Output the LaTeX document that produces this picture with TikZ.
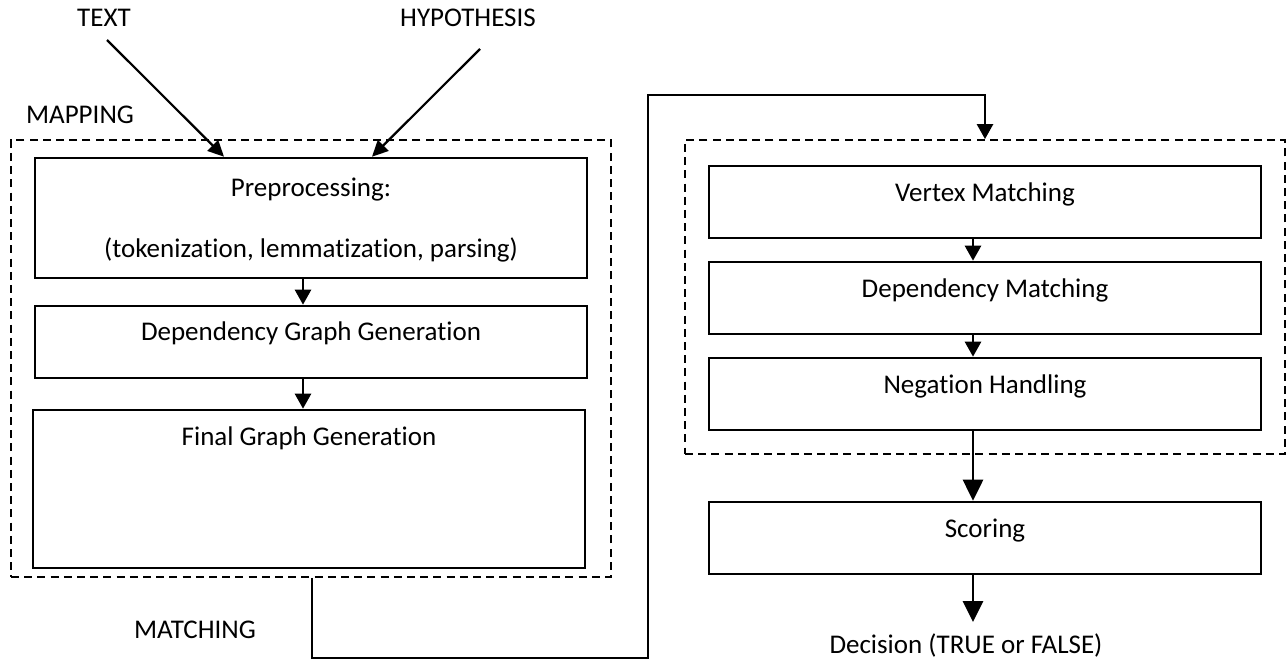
\documentclass[tikz,border=0pt]{standalone}
\usepackage{fontspec}
\setmainfont{Carlito}[Ligatures={NoCommon}]
\usetikzlibrary{arrows.meta,calc}
\begin{document}
\begin{tikzpicture}[x=0.5pt,y=-0.5pt,
  font=\fontsize{13.5}{16}\selectfont,
  box/.style={draw,line width=1.3pt,minimum width=276pt,inner sep=0pt},
  grp/.style={draw,line width=0.9pt,dash pattern=on 4pt off 2.6pt,inner sep=0pt},
  lbl/.style={inner sep=0pt,anchor=center},
  arr/.style={line width=1.3pt,-{Triangle[length=7.5pt,width=8pt]}},
  big arr/.style={line width=1.4pt,-{Triangle[length=10.5pt,width=10pt]}},
  thin arr/.style={line width=1.1pt,-{Triangle[length=8pt,width=7.5pt]}}]
\useasboundingbox (0,0) rectangle (1287,664);
% group frames
\node[grp,minimum width=300pt,minimum height=218.5pt] (lmap) at (311,358.5) {};
\node[grp,minimum width=300pt,minimum height=157pt] (rmatch) at (985,297) {};
% labels
\node[lbl] (ttext) at (104,18) {TEXT};
\node[lbl] (thyp) at (468,18) {HYPOTHESIS};
\node[lbl] (tmap) at (80,115) {MAPPING};
\node[lbl] (tmatch) at (195,630) {MATCHING};
% left column
\node[box,minimum height=60pt] (pre) at (311,218) {};
\node[lbl] (pret1) at (311,190) {Preprocessing:};
\node[lbl] (pret2) at (311,250) {(tokenization, lemmatization, parsing)};
\node[box,minimum height=36pt] (dep) at (311,342) {};
\node[lbl] (dept) at (311,333) {Dependency Graph Generation};
\node[box,minimum height=79pt] (fin) at (309,489) {};
\node[lbl] (fint) at (309,438) {Final Graph Generation};
% right column
\node[box,minimum height=36pt] (vm) at (985,202) {};
\node[lbl] (vmt) at (985,194) {Vertex Matching};
\node[box,minimum height=36pt] (dm) at (985,298) {};
\node[lbl] (dmt) at (985,290) {Dependency Matching};
\node[box,minimum height=36pt] (nh) at (985,394) {};
\node[lbl] (nht) at (985,386) {Negation Handling};
\node[box,minimum height=36pt] (sc) at (985,538) {};
\node[lbl] (sct) at (985,531) {Scoring};
\node[lbl] (dec) at (966,645) {Decision (TRUE or FALSE)};
% helper coordinates
\coordinate (t0) at (107,40);
\coordinate (t1) at (224,0);
\coordinate (h0) at (480,49);
\coordinate (h1) at (372,0);
\coordinate (la) at (303,0);
\coordinate (ra) at (973,0);
\coordinate (k1) at (312,658);
\coordinate (k2) at (648,95);
\coordinate (dx) at (985,0);
\coordinate (dtip) at (973,622);
% connectors
\draw[thin arr] (t0) -- (pre.north -| t1);
\draw[thin arr] (h0) -- (pre.north -| h1);
\draw[arr] (pre.south -| la) -- (dep.north -| la);
\draw[arr] (dep.south -| la) -- (fin.north -| la);
\draw[arr] (vm.south -| ra) -- (dm.north -| ra);
\draw[arr] (dm.south -| ra) -- (nh.north -| ra);
\draw[big arr] (nh.south -| ra) -- (sc.north -| ra);
\draw[big arr] (sc.south -| ra) -- (dtip);
\draw[arr] (lmap.south -| k1) -- (k1) -| (k2) -| (rmatch.north -| dx);
\end{tikzpicture}
\end{document}
